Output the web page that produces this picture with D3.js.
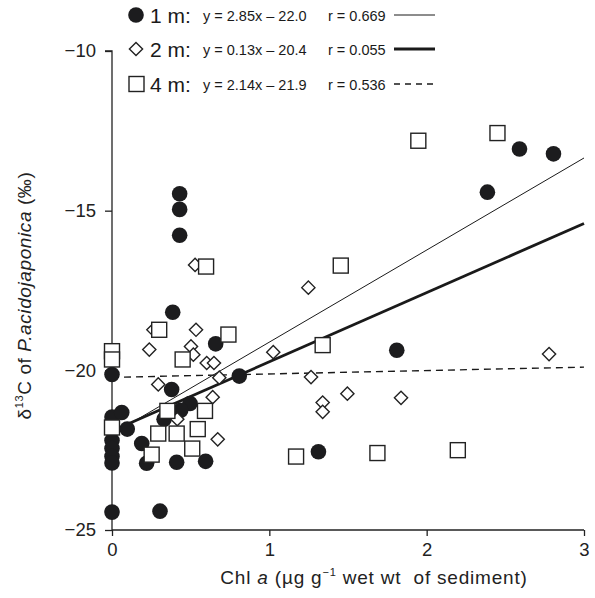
<!DOCTYPE html>
<html><head><meta charset="utf-8">
<script src="https://cdn.jsdelivr.net/npm/d3@7"></script>
<style>
html,body{margin:0;padding:0;background:#fff;}
svg{display:block;font-family:"Liberation Sans",Arial,Helvetica,sans-serif;}
text{white-space:pre;}
</style></head>
<body><svg id="c" width="595" height="598"></svg>
<script>
// ---- data ----
const xTicks = [0, 1, 2, 3];
const yTicks = [-10, -15, -20, -25];

const depth1mX = [0.43,0.43,0.43,0.386,0.659,0,0.809,0.379,0.496,0.437,0,0.062,0.331,0.097,0.189,0,0,0,0,0.22,0.411,0.595,0,0.305,1.81,1.312,2.59,2.806,2.386];
const depth1mY = [-14.47,-14.96,-15.77,-18.18,-19.17,-20.13,-20.18,-20.60,-21.04,-21.25,-21.46,-21.32,-21.53,-21.84,-22.29,-22.2,-22.45,-22.7,-22.9,-22.91,-22.88,-22.85,-24.44,-24.41,-19.37,-22.55,-13.07,-13.22,-14.42];

const depth2mX = [0.528,0.263,0.534,0.237,0.502,0.517,0.602,0.648,0.682,0.294,1.025,0.64,0.415,0.672,1.248,2.778,1.265,1.496,1.339,1.339,1.837];
const depth2mY = [-16.70,-18.73,-18.73,-19.35,-19.25,-19.51,-19.77,-19.77,-20.23,-20.44,-19.43,-20.84,-21.53,-22.16,-17.41,-19.49,-20.21,-20.73,-21.01,-21.30,-20.86];

const depth4mX = [0.598,0.30,0.74,0.449,0,0,0.591,0.352,0,0.294,0.411,0.545,0.252,0.51,1.454,1.339,1.17,1.687,2.198,1.947,2.45];
const depth4mY = [-16.75,-18.73,-18.88,-19.66,-19.40,-19.66,-21.27,-21.27,-21.79,-21.98,-21.98,-21.84,-22.64,-22.45,-16.72,-19.21,-22.70,-22.59,-22.50,-12.81,-12.57];

const legendLabels = ["1 m:", "2 m:", "4 m:"];
const legendEq = ["y = 2.85x \u2013 22.0", "y = 0.13x \u2013 20.4", "y = 2.14x \u2013 21.9"];
const legendR = ["r = 0.669", "r = 0.055", "r = 0.536"];
// fitted lines as drawn in the figure (value at x = 0 and at x = 3)
const lineStartY = [-22.0, -21.9, -20.22];
const lineEndY = [-13.35, -15.4, -19.9];

// ---- chart ----
const svg = d3.select("#c");
const x = d3.scaleLinear().domain([0, 3]).range([112, 584]);
const y = d3.scaleLinear().domain([-25, -10]).range([530, 51]);

const minus = d => String(d).replace("-", "\u2212");

const yAxis = svg.append("g").attr("transform", "translate(112,0)")
  .call(d3.axisLeft(y).tickValues(yTicks).tickSize(7).tickPadding(9).tickFormat(minus));
const xAxis = svg.append("g").attr("transform", "translate(0,530)")
  .call(d3.axisBottom(x).tickValues(xTicks).tickSize(6).tickPadding(7).tickFormat(d3.format("d")));
[yAxis, xAxis].forEach(g => {
  g.select(".domain").attr("stroke", "#222").attr("stroke-width", 1.3);
  g.selectAll(".tick line").attr("stroke", "#222").attr("stroke-width", 1.3);
  g.selectAll(".tick text").attr("font-size", 18.5).attr("fill", "#222")
    .attr("font-family", "Liberation Sans, Arial, sans-serif");
});
yAxis.select(".domain").attr("d", `M-7,${y(-10)}H0V${y(-25)}`);
xAxis.select(".domain").attr("d", `M${x(0)},0H${x(3)}`);

// fitted lines
const lineStyles = [
  {w: 1, dash: null},
  {w: 2.8, dash: null},
  {w: 1.4, dash: "7,5"}
];
lineStartY.forEach((v, i) => {
  svg.append("line")
    .attr("x1", x(0)).attr("y1", y(v))
    .attr("x2", x(3)).attr("y2", y(lineEndY[i]))
    .attr("stroke", "#1a1a1a").attr("stroke-width", lineStyles[i].w)
    .attr("stroke-dasharray", lineStyles[i].dash);
});

// markers
const R = 7.8, SQ = 15, DI = 6.6;
const circleData = depth1mX.map((v, i) => [v, depth1mY[i]]);
const diamondData = depth2mX.map((v, i) => [v, depth2mY[i]]);
const squareData = depth4mX.map((v, i) => [v, depth4mY[i]]);

svg.append("g").selectAll("circle").data(circleData).join("circle")
  .attr("cx", d => x(d[0])).attr("cy", d => y(d[1])).attr("r", R)
  .attr("fill", "#1c1c1e");
svg.append("g").selectAll("path").data(diamondData).join("path")
  .attr("d", d => `M${x(d[0])},${y(d[1]) - DI}L${x(d[0]) + DI},${y(d[1])}L${x(d[0])},${y(d[1]) + DI}L${x(d[0]) - DI},${y(d[1])}Z`)
  .attr("fill", "#fff").attr("stroke", "#222").attr("stroke-width", 1.4);
svg.append("g").selectAll("rect").data(squareData).join("rect")
  .attr("x", d => x(d[0]) - SQ / 2).attr("y", d => y(d[1]) - SQ / 2)
  .attr("width", SQ).attr("height", SQ)
  .attr("fill", "#fff").attr("stroke", "#222").attr("stroke-width", 1.4);

// legend
const rowY = [15, 49, 84];
const lg = svg.append("g");
lg.append("circle").attr("cx", 136).attr("cy", rowY[0]).attr("r", 7.8).attr("fill", "#1c1c1e");
lg.append("path").attr("d", `M136,${rowY[1]-6.6}L142.6,${rowY[1]}L136,${rowY[1]+6.6}L129.4,${rowY[1]}Z`)
  .attr("fill", "#fff").attr("stroke", "#222").attr("stroke-width", 1.4);
lg.append("rect").attr("x", 129).attr("y", rowY[2] - 7.5).attr("width", 15).attr("height", 15)
  .attr("fill", "#fff").attr("stroke", "#222").attr("stroke-width", 1.4);
legendLabels.forEach((t, i) => {
  lg.append("text").attr("x", 150).attr("y", rowY[i] + 7.5).attr("font-size", 21)
    .attr("fill", "#1a1a1a").text(t);
  lg.append("text").attr("x", 203).attr("y", rowY[i] + 5.5).attr("font-size", 14.5)
    .attr("fill", "#1a1a1a").text(legendEq[i]);
  lg.append("text").attr("x", 328).attr("y", rowY[i] + 5.5).attr("font-size", 14.5)
    .attr("fill", "#1a1a1a").text(legendR[i]);
});
lineStyles.forEach((st, i) => {
  lg.append("line").attr("x1", 394).attr("x2", 435).attr("y1", rowY[i]).attr("y2", rowY[i])
    .attr("stroke", "#1a1a1a").attr("stroke-width", st.w).attr("stroke-dasharray", st.dash ? "6,5" : null);
});

// axis titles
const yt = svg.append("text").attr("transform", `translate(31,${(y(-10)+y(-25))/2 + 5}) rotate(-90)`)
  .attr("text-anchor", "middle").attr("font-size", 19).attr("letter-spacing", 0.6).attr("fill", "#222");
yt.append("tspan").text("\u03B4");
yt.append("tspan").attr("font-size", 11).attr("dy", -8).text("13");
yt.append("tspan").attr("dy", 8).text("C of ");
yt.append("tspan").attr("font-style", "italic").text("P.acidojaponica");
yt.append("tspan").text(" (\u2030)");

const xt = svg.append("text").attr("x", 374).attr("y", 584)
  .attr("text-anchor", "middle").attr("font-size", 19).attr("letter-spacing", 0.8).attr("fill", "#222");
xt.append("tspan").text("Chl ");
xt.append("tspan").attr("font-style", "italic").text("a");
xt.append("tspan").text(" (\u00B5g g");
xt.append("tspan").attr("font-size", 11).attr("dy", -8).text("\u22121");
xt.append("tspan").attr("dy", 8).text(" wet wt  of sediment)");
</script></body></html>
